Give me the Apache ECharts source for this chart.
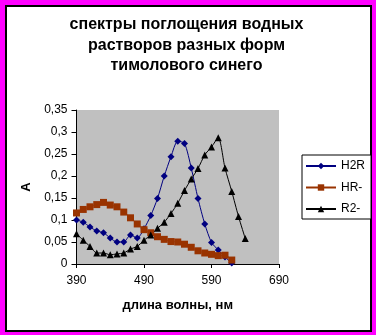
<!DOCTYPE html>
<html>
<head>
<meta charset="utf-8">
<script src="https://cdn.jsdelivr.net/npm/echarts@6/dist/echarts.min.js"></script>
<style>
  html, body { margin: 0; padding: 0; background: #ff00ff; }
  #chart { width: 376px; height: 335px; }
</style>
</head>
<body>
<div id="chart"></div>
<script>
// Absorption spectra of thymol blue forms (wavelength, nm -> absorbance A)
const titleLines = ['спектры поглощения водных', 'растворов разных форм', 'тимолового синего'];
const xTicks = [390, 490, 590, 690];

const wlH2R = [390, 400, 410, 420, 430, 440, 450, 460, 470, 480, 490, 500, 510, 520, 530, 540, 550, 560, 570, 580, 590, 600, 610, 620];
const aH2R  = [0.100, 0.095, 0.084, 0.075, 0.071, 0.059, 0.050, 0.050, 0.066, 0.059, 0.080, 0.110, 0.149, 0.200, 0.244, 0.279, 0.274, 0.218, 0.149, 0.091, 0.049, 0.032, 0.016, 0.002];

const wlHR = [390, 400, 410, 420, 430, 440, 450, 460, 470, 480, 490, 500, 510, 520, 530, 540, 550, 560, 570, 580, 590, 600, 610, 620];
const aHR  = [0.116, 0.124, 0.130, 0.135, 0.140, 0.134, 0.130, 0.118, 0.105, 0.091, 0.078, 0.071, 0.062, 0.056, 0.051, 0.050, 0.045, 0.038, 0.030, 0.025, 0.022, 0.019, 0.020, 0.009];

const wlR2 = [390, 400, 410, 420, 430, 440, 450, 460, 470, 480, 490, 500, 510, 520, 530, 540, 550, 560, 570, 580, 590, 600, 610, 620, 630, 640];
const aR2  = [0.069, 0.054, 0.040, 0.025, 0.025, 0.021, 0.023, 0.025, 0.034, 0.040, 0.054, 0.066, 0.081, 0.095, 0.115, 0.138, 0.167, 0.193, 0.217, 0.248, 0.266, 0.287, 0.218, 0.165, 0.108, 0.058];

const pairs = (xs, ys) => xs.map((x, i) => [x, ys[i]]);
const font = 'Arial, "Liberation Sans", sans-serif';

const chart = echarts.init(document.getElementById('chart'), null, { renderer: 'canvas' });

chart.setOption({
  backgroundColor: '#ff00ff',
  animation: false,
  graphic: [
    {
      type: 'rect', z: -10, silent: true,
      shape: { x: 6, y: 6, width: 365, height: 325 },
      style: { fill: '#ffffff', stroke: '#000000', lineWidth: 2 }
    },
    ...titleLines.map((t, i) => ({
      type: 'text', silent: true,
      x: 186.5, y: 25 + i * 20.2,
      style: {
        text: t, fill: '#000', font: 'bold 16px ' + font,
        textAlign: 'center', textVerticalAlign: 'middle'
      }
    }))
  ],
  grid: {
    left: 76.5, right: 97, top: 110, bottom: 71,
    show: true, backgroundColor: '#c0c0c0', borderWidth: 0
  },
  legend: {
    orient: 'vertical',
    left: 302, top: 155,
    itemWidth: 30, itemHeight: 8, itemGap: 9.5,
    padding: [5, 6, 4, 3],
    backgroundColor: '#ffffff', borderColor: '#000000', borderWidth: 1, borderRadius: 0,
    textStyle: { fontFamily: font, fontSize: 12, color: '#000' },
    data: ['H2R', 'HR-', 'R2-']
  },
  xAxis: {
    type: 'value', min: 390, max: 690,
    name: 'длина волны, нм', nameLocation: 'middle', nameGap: 35,
    nameTextStyle: { fontFamily: font, fontSize: 13, fontWeight: 'bold', color: '#000' },
    axisLine: { show: true, onZero: false, lineStyle: { color: '#000', width: 1 } },
    axisTick: { show: true, inside: false, length: 4, customValues: xTicks, lineStyle: { color: '#000' } },
    axisLabel: { customValues: xTicks, margin: 11, fontFamily: font, fontSize: 12, color: '#000' },
    splitLine: { show: false }
  },
  yAxis: {
    type: 'value', min: 0, max: 0.35, interval: 0.05,
    name: 'А', nameLocation: 'middle', nameGap: 44, nameRotate: 90,
    nameTextStyle: { fontFamily: font, fontSize: 13, fontWeight: 'bold', color: '#000' },
    axisLine: { show: true, lineStyle: { color: '#000', width: 1 } },
    axisTick: { show: true, inside: false, length: 5, lineStyle: { color: '#000' } },
    axisLabel: {
      margin: 9, fontFamily: font, fontSize: 12, color: '#000',
      formatter: v => String(+v.toFixed(2)).replace('.', ',')
    },
    splitLine: { show: false }
  },
  series: [
    {
      name: 'H2R', type: 'line', data: pairs(wlH2R, aH2R),
      smooth: 0.25, symbol: 'diamond', symbolSize: 7, showAllSymbol: true,
      itemStyle: { color: '#000080' }, lineStyle: { color: '#000080', width: 1 }
    },
    {
      name: 'HR-', type: 'line', data: pairs(wlHR, aHR),
      smooth: 0.25, symbol: 'rect', symbolSize: 7, showAllSymbol: true,
      itemStyle: { color: '#993300' }, lineStyle: { color: '#993300', width: 1 }
    },
    {
      name: 'R2-', type: 'line', data: pairs(wlR2, aR2),
      smooth: 0.25, symbol: 'triangle', symbolSize: 7, showAllSymbol: true,
      itemStyle: { color: '#000000' }, lineStyle: { color: '#000000', width: 1 }
    }
  ]
});
</script>
</body>
</html>
